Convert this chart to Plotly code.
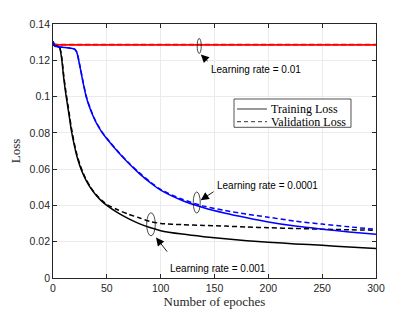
import plotly.graph_objects as go

# ---------------- data ----------------
epochs = [0, 2, 4, 6, 8, 10, 12, 15, 17, 20, 22, 25, 28, 31, 35, 40, 45, 50,
          60, 70, 80, 90, 100, 120, 140, 160, 180, 200, 225, 250, 275, 300]

lr001_train = [0.1290, 0.1286, 0.1285, 0.1285, 0.1285, 0.1285, 0.1285, 0.1285,
               0.1285, 0.1285, 0.1285, 0.1285, 0.1285, 0.1285, 0.1285, 0.1285,
               0.1285, 0.1285, 0.1285, 0.1285, 0.1285, 0.1285, 0.1285, 0.1285,
               0.1285, 0.1285, 0.1285, 0.1285, 0.1285, 0.1285, 0.1285, 0.1285]
lr001_val = [0.1288, 0.1287, 0.1286, 0.1286, 0.1286, 0.1286, 0.1286, 0.1286,
             0.1286, 0.1286, 0.1286, 0.1286, 0.1286, 0.1286, 0.1286, 0.1286,
             0.1286, 0.1286, 0.1286, 0.1286, 0.1286, 0.1286, 0.1286, 0.1286,
             0.1286, 0.1286, 0.1286, 0.1286, 0.1286, 0.1286, 0.1286, 0.1286]

lr0001_train = [0.1285, 0.1280, 0.1278, 0.1272, 0.1210, 0.1100, 0.1010, 0.0895,
                0.0815, 0.0725, 0.0675, 0.0618, 0.0572, 0.0535, 0.0495, 0.0456,
                0.0425, 0.0400, 0.0360, 0.0327, 0.0300, 0.0278, 0.0261, 0.0242,
                0.0228, 0.0217, 0.0206, 0.0197, 0.0188, 0.0180, 0.0171, 0.0163]
lr0001_val = [0.1285, 0.1280, 0.1278, 0.1273, 0.1220, 0.1115, 0.1025, 0.0910,
              0.0830, 0.0737, 0.0685, 0.0626, 0.0579, 0.0541, 0.0500, 0.0460,
              0.0429, 0.0405, 0.0376, 0.0352, 0.0332, 0.0312, 0.0301, 0.0294,
              0.0290, 0.0286, 0.0281, 0.0277, 0.0273, 0.0269, 0.0266, 0.0263]

lr00001_train = [0.1305, 0.1278, 0.1275, 0.1273, 0.1272, 0.1271, 0.1270, 0.1268,
                 0.1266, 0.1262, 0.1245, 0.1165, 0.1075, 0.0995, 0.0925, 0.0857,
                 0.0807, 0.0767, 0.0697, 0.0634, 0.0577, 0.0527, 0.0484, 0.0427,
                 0.0387, 0.0357, 0.0332, 0.0309, 0.0286, 0.0269, 0.0254, 0.0241]
lr00001_val = [0.1305, 0.1278, 0.1275, 0.1273, 0.1272, 0.1271, 0.1270, 0.1268,
               0.1266, 0.1262, 0.1247, 0.1170, 0.1080, 0.1000, 0.0929, 0.0860,
               0.0810, 0.0770, 0.0700, 0.0637, 0.0581, 0.0531, 0.0488, 0.0434,
               0.0396, 0.0372, 0.0352, 0.0335, 0.0313, 0.0297, 0.0282, 0.0268]

x_ticks = [0, 50, 100, 150, 200, 250, 300]
y_ticks = [0, 0.02, 0.04, 0.06, 0.08, 0.1, 0.12, 0.14]
y_tick_labels = ["0", "0.02", "0.04", "0.06", "0.08", "0.1", "0.12", "0.14"]

legend_names = ["Training Loss", "Validation Loss"]
legend_dashes = ["solid", "4px,3px"]

# annotation anchors (epoch, loss)
ellipses = [  # (center x, center y, width, height)
    (135.8, 0.1279, 3.8, 0.0083),
    (133.5, 0.0416, 6.5, 0.0116),
    (91.0, 0.0296, 8.0, 0.0127),
]
arrows = [  # (tip x, tip y, tail x, tail y)
    (137.3, 0.1232, 145.0, 0.1188),
    (137.2, 0.0429, 150.5, 0.0481),
    (95.7, 0.0223, 107.1, 0.0137),
]
labels = [  # (text, x, y)
    ("Learning rate = 0.01", 144.6, 0.1150),
    ("Learning rate = 0.0001", 150.3, 0.0512),
    ("Learning rate = 0.001", 107.0, 0.0055),
]

# ---------------- figure ----------------
fig = go.Figure()
series = [
    (lr001_train, "#ff0000", "solid", 1.8),
    (lr001_val, "#ff0000", "5px,3px", 1.8),
    (lr0001_train, "#000000", "solid", 1.5),
    (lr0001_val, "#000000", "5px,3px", 1.5),
    (lr00001_train, "#0000ff", "solid", 1.5),
    (lr00001_val, "#0000ff", "5px,3px", 1.5),
]
for ys, col, dash, w in series:
    fig.add_trace(go.Scatter(x=epochs, y=ys, mode="lines", showlegend=False,
                             line=dict(color=col, width=w, dash=dash, shape="spline", smoothing=0.8),
                             hoverinfo="skip"))

# legend (drawn in paper coordinates)
fig.add_shape(type="rect", xref="paper", yref="paper", x0=0.5604, x1=0.9226,
              y0=0.5933, y1=0.7047, line=dict(color="#262626", width=0.8),
              fillcolor="#ffffff", layer="above")
row_y = [0.6654, 0.6154]
for name, dash, ry in zip(legend_names, legend_dashes, row_y):
    fig.add_shape(type="line", xref="paper", yref="paper", x0=0.5697, x1=0.6625,
                  y0=ry, y1=ry, line=dict(color="#000000", width=0.8, dash=dash),
                  layer="above")
    fig.add_annotation(x=0.6690, y=ry, xref="paper", yref="paper", text=name,
                       showarrow=False, xanchor="left", yanchor="middle",
                       font=dict(family="Liberation Serif, DejaVu Serif", size=12, color="#000000"))

for cx, cy, w, h in ellipses:
    fig.add_shape(type="circle", xref="x", yref="y",
                  x0=cx - w / 2, x1=cx + w / 2, y0=cy - h / 2, y1=cy + h / 2,
                  line=dict(color="#000000", width=0.7))

for tx, ty, sx, sy in arrows:
    fig.add_annotation(x=tx, y=ty, ax=sx, ay=sy, xref="x", yref="y",
                       axref="x", ayref="y", text="", showarrow=True,
                       arrowhead=2, arrowsize=1.8, arrowwidth=0.9,
                       arrowcolor="#000000")

for txt, lx, ly in labels:
    fig.add_annotation(x=lx, y=ly, xref="x", yref="y", text=txt,
                       showarrow=False, xanchor="left", yanchor="middle",
                       font=dict(family="Liberation Sans, Arial", size=10, color="#000000"))

axis_common = dict(showline=True, linecolor="#262626", linewidth=0.8, mirror="ticks",
                   ticks="inside", ticklen=4, tickwidth=0.8, tickcolor="#262626",
                   showgrid=True, gridcolor="#ebebeb", gridwidth=0.8, zeroline=False,
                   automargin=False,
                   tickfont=dict(family="Liberation Sans, Arial", size=10.5, color="#262626"))

fig.update_xaxes(range=[0, 300], tickvals=x_ticks,
                 title=dict(text="Number of epoches", standoff=4,
                            font=dict(family="Liberation Serif, DejaVu Serif", size=13, color="#262626")),
                 **axis_common)
fig.update_yaxes(range=[0, 0.14], tickvals=y_ticks, ticktext=y_tick_labels,
                 title=dict(text="Loss", standoff=6,
                            font=dict(family="Liberation Serif, DejaVu Serif", size=13, color="#262626")),
                 **axis_common)

fig.update_layout(
    width=407, height=304,
    margin=dict(l=45, r=39, t=16, b=34),
    paper_bgcolor="#ffffff", plot_bgcolor="#ffffff",
    showlegend=False,
)

fig.write_html("out.html")
